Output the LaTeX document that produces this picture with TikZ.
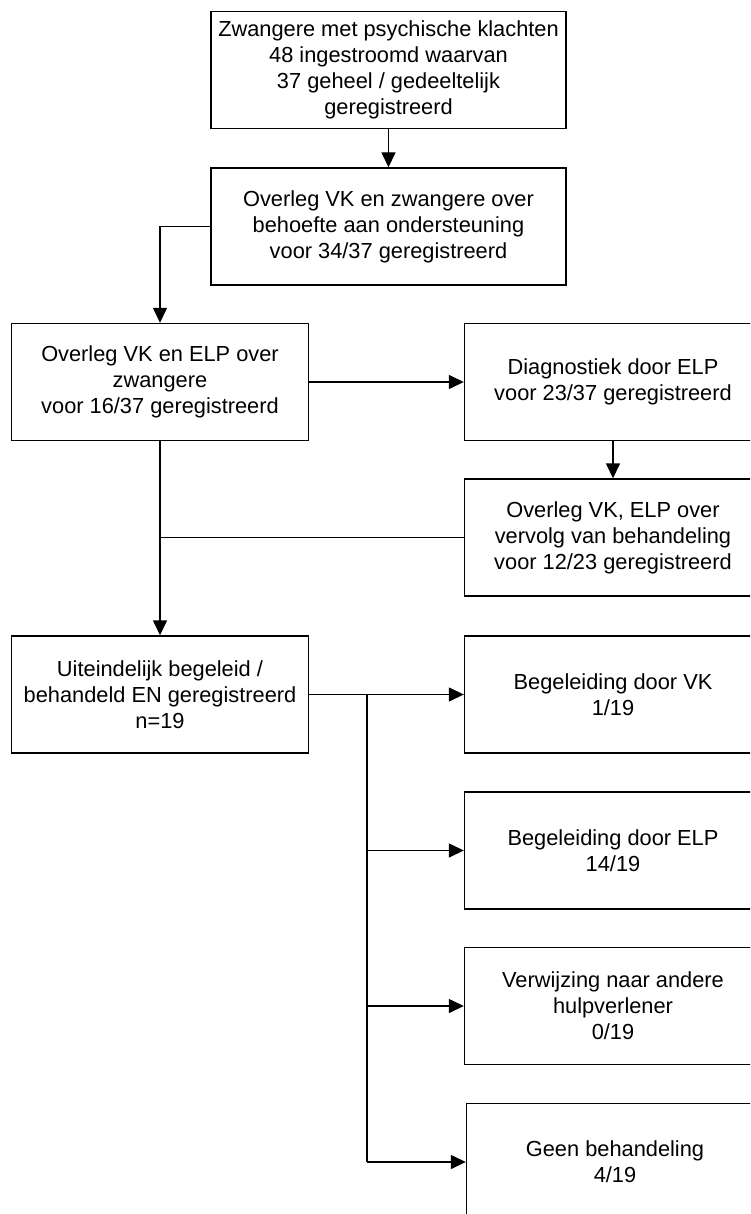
\documentclass[tikz,border=0pt]{standalone}
\usepackage{fontspec}
\setmainfont{Liberation Sans}
\usetikzlibrary{arrows.meta}
\tikzset{
  box/.style={draw, line width=1.4pt, inner sep=0pt, align=center,
    minimum height=117pt, font=\fontsize{21.8}{26}\selectfont},
  widebox/.style={box, minimum width=355pt},
  midbox/.style={box, minimum width=297pt},
  conn/.style={line width=1.4pt},
  arr/.style={conn, -{Triangle[length=15pt,width=14pt]}}
}
\begin{document}
\begin{tikzpicture}[x=1pt,y=-1pt]
\fill[white] (0,0) rectangle (750,1214);
\useasboundingbox (0,0) rectangle (750,1214);
\clip (0,0) rectangle (750,1214);

\node[widebox] (b1) at (388.5,70) {Zwangere met psychische klachten\\48 ingestroomd waarvan\\37 geheel / gedeeltelijk\\geregistreerd};
\node[widebox] (b2) at (388.5,226.5) {Overleg VK en zwangere over\\behoefte aan ondersteuning\\voor 34/37 geregistreerd};
\node[midbox] (b3) at (160,382) {Overleg VK en ELP over\\zwangere\\voor 16/37 geregistreerd};
\node[midbox] (b4) at (613,382) {Diagnostiek door ELP\\voor 23/37 geregistreerd};
\node[midbox] (b5) at (613,537.5) {Overleg VK, ELP over\\vervolg van behandeling\\voor 12/23 geregistreerd};
\node[midbox] (b6) at (160,694.5) {Uiteindelijk begeleid /\\behandeld EN geregistreerd\\n=19};
\node[midbox] (b7) at (613,694.5) {Begeleiding door VK\\1/19};
\node[midbox] (b8) at (613,850.5) {Begeleiding door ELP\\14/19};
\node[midbox] (b9) at (613,1006) {Verwijzing naar andere\\hulpverlener\\0/19};
\node[midbox] (b10) at (615,1162) {Geen behandeling\\4/19};

\coordinate (j) at (367,694.5);
\coordinate (jend) at (367,1162);

\draw[arr] (b1.south) -- (b2.north);
\draw[arr] (b2.west) -| (b3.north);
\draw[arr] (b3.east) -- (b4.west);
\draw[arr] (b4.south) -- (b5.north);
\draw[conn] (b5.west) -- (b5.west -| b3.south);
\draw[arr] (b3.south) -- (b6.north);
\draw[arr] (b6.east) -- (b7.west);
\draw[conn] (j) -- (jend);
\draw[arr] (j |- b8.west) -- (b8.west);
\draw[arr] (j |- b9.west) -- (b9.west);
\draw[arr] (jend) -- (b10.west);
\end{tikzpicture}
\end{document}
